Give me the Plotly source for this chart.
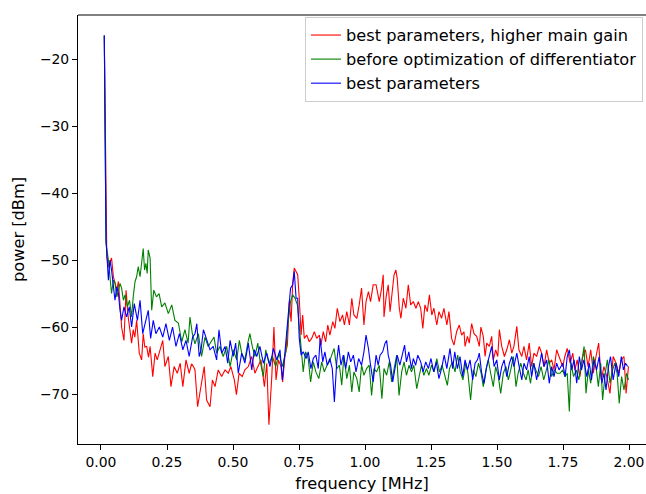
import plotly.graph_objects as go

# ---- data (frequency [MHz], power [dBm]) ----
red_data = [
    (0.0125, -16.5), (0.022, -49.5), (0.028, -51.0), (0.04, -49.7), (0.047, -52.5), (0.053, -53.4),
    (0.06, -54.5), (0.066, -53.2), (0.072, -57.0), (0.078, -60.0), (0.087, -62.0), (0.095, -54.5),
    (0.103, -58.5), (0.11, -60.5), (0.116, -62.4), (0.122, -60.4), (0.128, -61.5), (0.135, -59.0),
    (0.145, -63.9), (0.154, -64.9), (0.16, -61.0), (0.166, -63.0), (0.173, -62.9), (0.18, -64.5),
    (0.186, -62.9), (0.196, -67.4), (0.205, -63.9), (0.213, -64.9), (0.223, -63.4), (0.234, -62.0),
    (0.242, -65.9), (0.255, -64.4), (0.265, -68.9), (0.277, -65.9), (0.289, -66.9), (0.30, -65.4),
    (0.31, -68.9), (0.322, -64.9), (0.334, -66.9), (0.343, -65.5), (0.35, -65.9), (0.356, -66.4),
    (0.366, -71.9), (0.379, -68.4), (0.391, -65.9), (0.40, -70.9), (0.413, -71.9), (0.422, -67.9),
    (0.432, -68.9), (0.444, -66.4), (0.457, -67.4), (0.47, -66.4), (0.482, -66.9), (0.492, -65.9),
    (0.505, -67.9), (0.513, -70.1), (0.523, -66.9), (0.535, -67.4), (0.545, -66.4), (0.558, -65.9),
    (0.571, -64.4), (0.583, -66.9), (0.596, -65.9), (0.606, -64.9), (0.619, -68.9), (0.628, -65.4),
    (0.636, -74.6), (0.647, -67.4), (0.655, -60.0), (0.663, -67.9), (0.672, -64.9), (0.682, -65.9),
    (0.688, -68.2), (0.697, -64.2), (0.706, -62.7), (0.713, -56.2), (0.72, -59.2), (0.726, -53.7),
    (0.732, -51.2), (0.739, -51.7), (0.745, -52.2), (0.751, -55.7), (0.758, -61.2), (0.764, -58.2),
    (0.77, -61.7), (0.779, -61.2), (0.789, -62.2), (0.798, -61.7), (0.808, -60.7), (0.817, -61.7),
    (0.827, -61.2), (0.833, -62.7), (0.842, -60.7), (0.851, -62.2), (0.859, -59.7), (0.867, -61.2),
    (0.878, -59.2), (0.886, -60.2), (0.895, -57.2), (0.905, -59.2), (0.915, -58.2), (0.922, -59.7),
    (0.931, -57.7), (0.941, -59.7), (0.95, -55.7), (0.958, -58.2), (0.969, -58.7), (0.978, -56.7),
    (0.987, -54.2), (0.996, -59.7), (1.004, -56.2), (1.013, -54.7), (1.021, -56.2), (1.031, -53.7),
    (1.042, -53.7), (1.054, -56.2), (1.063, -54.2), (1.069, -52.2), (1.072, -58.5), (1.08, -55.5),
    (1.088, -53.7), (1.095, -57.7), (1.101, -55.2), (1.11, -52.2), (1.117, -51.5), (1.122, -52.7),
    (1.13, -57.2), (1.136, -58.7), (1.145, -55.7), (1.155, -57.2), (1.164, -53.7), (1.173, -56.7),
    (1.183, -56.2), (1.193, -57.2), (1.202, -56.2), (1.211, -57.2), (1.219, -60.2), (1.227, -56.7),
    (1.236, -57.7), (1.244, -55.2), (1.253, -58.2), (1.261, -57.2), (1.272, -59.7), (1.28, -57.7),
    (1.29, -58.7), (1.299, -57.2), (1.31, -59.7), (1.318, -57.7), (1.328, -61.7), (1.337, -62.7),
    (1.347, -60.7), (1.357, -59.7), (1.366, -61.2), (1.375, -60.7), (1.379, -62.9), (1.388, -61.4),
    (1.395, -62.4), (1.404, -59.5), (1.413, -61.0), (1.423, -61.4), (1.433, -62.9), (1.439, -60.0),
    (1.448, -61.4), (1.455, -64.4), (1.461, -62.4), (1.471, -62.9), (1.48, -61.4), (1.486, -64.9),
    (1.495, -63.4), (1.503, -64.4), (1.509, -60.4), (1.518, -62.9), (1.528, -64.4), (1.537, -63.4),
    (1.547, -61.9), (1.556, -63.9), (1.564, -62.9), (1.575, -59.9), (1.583, -63.4), (1.594, -64.4),
    (1.602, -62.9), (1.612, -64.9), (1.622, -62.4), (1.631, -65.9), (1.64, -63.9), (1.65, -64.4),
    (1.66, -62.9), (1.669, -63.9), (1.678, -65.9), (1.688, -63.4), (1.698, -65.4), (1.707, -64.9),
    (1.716, -66.4), (1.726, -63.4), (1.735, -64.4), (1.749, -65.9), (1.757, -64.4), (1.766, -63.2),
    (1.777, -65.4), (1.787, -63.9), (1.795, -66.4), (1.804, -64.9), (1.814, -67.4), (1.825, -64.4),
    (1.835, -63.4), (1.845, -65.9), (1.855, -63.4), (1.865, -66.9), (1.875, -64.4), (1.885, -62.4),
    (1.895, -67.9), (1.905, -65.9), (1.916, -67.4), (1.928, -69.9), (1.94, -64.4), (1.951, -65.4),
    (1.961, -66.9), (1.971, -64.9), (1.981, -64.4), (1.989, -69.9), (1.998, -65.9),
]

green_data = [
    (0.0125, -16.5), (0.019, -47.5), (0.028, -50.0), (0.04, -55.0), (0.047, -53.0), (0.053, -53.4),
    (0.06, -55.5), (0.066, -54.5), (0.072, -53.5), (0.078, -54.2), (0.085, -56.0), (0.091, -55.2),
    (0.10, -57.0), (0.108, -56.0), (0.116, -58.5), (0.122, -55.5), (0.129, -53.2), (0.135, -52.5),
    (0.141, -51.0), (0.148, -52.5), (0.154, -50.0), (0.16, -48.3), (0.165, -51.5), (0.17, -50.5),
    (0.175, -52.0), (0.179, -48.5), (0.186, -49.7), (0.192, -57.5), (0.20, -54.5), (0.21, -55.5),
    (0.22, -55.0), (0.23, -57.0), (0.242, -56.4), (0.255, -58.0), (0.268, -56.7), (0.28, -59.0),
    (0.293, -59.4), (0.306, -62.2), (0.318, -60.4), (0.33, -62.4), (0.337, -58.5), (0.346, -61.0),
    (0.356, -62.5), (0.369, -61.0), (0.381, -64.4), (0.394, -61.5), (0.406, -62.9), (0.419, -62.0),
    (0.428, -61.5), (0.438, -63.9), (0.45, -62.9), (0.463, -64.4), (0.476, -62.9), (0.489, -65.9),
    (0.501, -63.4), (0.514, -64.9), (0.524, -62.0), (0.533, -63.9), (0.545, -64.9), (0.556, -62.4),
    (0.564, -61.0), (0.573, -62.9), (0.583, -64.4), (0.594, -62.4), (0.602, -64.9), (0.615, -67.4),
    (0.624, -63.4), (0.636, -65.4), (0.649, -64.4), (0.662, -65.9), (0.674, -63.9), (0.687, -65.9),
    (0.70, -63.7), (0.709, -59.2), (0.718, -56.2), (0.726, -55.2), (0.735, -55.7), (0.744, -56.7),
    (0.751, -60.2), (0.758, -62.7), (0.766, -66.7), (0.775, -63.7), (0.785, -64.7), (0.794, -68.2),
    (0.804, -65.2), (0.814, -66.7), (0.825, -67.7), (0.836, -65.2), (0.846, -66.7), (0.856, -65.7),
    (0.865, -65.2), (0.874, -64.2), (0.883, -63.2), (0.893, -66.2), (0.903, -65.7), (0.912, -68.7),
    (0.92, -64.2), (0.931, -67.7), (0.941, -65.7), (0.95, -69.7), (0.958, -66.7), (0.969, -67.7),
    (0.978, -69.7), (0.987, -65.7), (0.996, -67.2), (1.006, -66.2), (1.016, -65.7), (1.025, -70.2),
    (1.034, -66.2), (1.044, -66.7), (1.054, -65.7), (1.064, -70.7), (1.072, -66.2), (1.082, -67.2),
    (1.092, -65.2), (1.101, -68.2), (1.11, -66.2), (1.12, -64.2), (1.129, -70.2), (1.139, -66.7),
    (1.148, -65.2), (1.157, -67.2), (1.167, -65.7), (1.176, -66.7), (1.185, -65.7), (1.196, -69.2),
    (1.206, -67.2), (1.214, -65.7), (1.223, -67.2), (1.233, -66.2), (1.242, -67.2), (1.252, -65.7),
    (1.262, -66.7), (1.272, -64.7), (1.282, -66.7), (1.292, -65.7), (1.302, -67.2), (1.312, -68.7),
    (1.32, -66.2), (1.331, -65.2), (1.341, -66.7), (1.351, -64.2), (1.361, -66.7), (1.371, -67.9),
    (1.382, -65.4), (1.39, -66.9), (1.40, -70.9), (1.41, -66.4), (1.42, -67.4), (1.43, -65.4),
    (1.44, -66.9), (1.448, -68.9), (1.458, -66.4), (1.467, -64.9), (1.476, -66.9), (1.486, -68.9),
    (1.495, -65.9), (1.505, -67.4), (1.514, -69.9), (1.524, -66.9), (1.534, -65.9), (1.543, -67.9),
    (1.552, -66.4), (1.562, -64.4), (1.572, -68.9), (1.58, -66.9), (1.59, -65.4), (1.60, -66.9),
    (1.61, -67.9), (1.618, -66.4), (1.627, -68.4), (1.637, -65.4), (1.647, -66.4), (1.657, -67.4),
    (1.667, -65.9), (1.677, -67.9), (1.687, -66.4), (1.697, -64.9), (1.707, -67.4), (1.717, -66.4),
    (1.727, -66.9), (1.739, -66.9), (1.749, -66.4), (1.757, -67.4), (1.766, -66.9), (1.774, -72.6),
    (1.78, -65.4), (1.79, -67.4), (1.80, -66.4), (1.81, -67.9), (1.82, -65.4), (1.83, -62.9),
    (1.837, -69.9), (1.846, -66.4), (1.855, -68.4), (1.865, -64.4), (1.875, -65.9), (1.884, -68.9),
    (1.893, -65.4), (1.90, -70.9), (1.91, -66.9), (1.918, -64.9), (1.928, -68.4), (1.938, -66.4),
    (1.946, -65.4), (1.955, -66.9), (1.963, -71.4), (1.972, -67.4), (1.981, -69.4), (1.991, -66.9),
    (1.998, -67.9),
]

blue_data = [
    (0.0125, -16.5), (0.019, -47.0), (0.028, -53.0), (0.034, -50.0), (0.04, -51.5), (0.047, -54.0),
    (0.053, -56.0), (0.06, -54.0), (0.066, -55.0), (0.072, -57.5), (0.078, -59.0), (0.087, -57.0),
    (0.097, -58.5), (0.107, -57.0), (0.116, -60.0), (0.126, -56.5), (0.138, -59.0), (0.148, -56.0),
    (0.158, -61.0), (0.167, -59.5), (0.179, -57.5), (0.188, -61.7), (0.198, -59.0), (0.208, -61.0),
    (0.221, -60.0), (0.234, -61.5), (0.246, -59.5), (0.259, -62.0), (0.271, -60.0), (0.284, -62.9),
    (0.297, -61.0), (0.31, -63.4), (0.322, -62.0), (0.334, -64.4), (0.347, -61.5), (0.356, -61.0),
    (0.363, -59.5), (0.372, -64.4), (0.379, -63.4), (0.388, -60.4), (0.40, -62.0), (0.413, -63.4),
    (0.425, -62.9), (0.438, -64.9), (0.447, -60.4), (0.457, -63.9), (0.47, -62.9), (0.48, -65.4),
    (0.489, -62.0), (0.501, -64.4), (0.51, -62.4), (0.52, -66.9), (0.533, -63.9), (0.545, -65.4),
    (0.558, -62.4), (0.571, -66.4), (0.581, -63.4), (0.59, -64.4), (0.602, -62.9), (0.615, -65.4),
    (0.628, -63.9), (0.64, -65.9), (0.653, -63.2), (0.666, -64.9), (0.678, -63.4), (0.687, -67.9),
    (0.697, -63.7), (0.709, -57.7), (0.718, -54.2), (0.726, -53.7), (0.732, -51.7), (0.739, -55.7),
    (0.745, -55.7), (0.751, -61.7), (0.758, -64.2), (0.766, -63.7), (0.777, -64.7), (0.785, -63.7),
    (0.795, -66.2), (0.804, -64.7), (0.814, -64.2), (0.823, -66.2), (0.83, -61.7), (0.84, -65.2),
    (0.848, -63.7), (0.857, -65.7), (0.867, -64.7), (0.876, -66.2), (0.884, -71.2), (0.893, -65.2),
    (0.90, -62.7), (0.909, -65.7), (0.918, -64.2), (0.927, -66.2), (0.937, -63.7), (0.946, -65.2),
    (0.956, -64.2), (0.966, -66.7), (0.976, -64.7), (0.987, -65.7), (0.996, -63.7), (1.004, -61.2),
    (1.013, -63.2), (1.021, -65.7), (1.031, -68.2), (1.042, -64.2), (1.05, -65.7), (1.057, -64.2),
    (1.067, -63.7), (1.076, -62.4), (1.082, -62.0), (1.088, -64.2), (1.097, -65.7), (1.105, -68.2),
    (1.114, -65.7), (1.122, -64.2), (1.132, -65.7), (1.141, -64.2), (1.15, -62.7), (1.157, -65.2),
    (1.166, -63.7), (1.176, -66.2), (1.183, -64.7), (1.192, -65.7), (1.20, -64.2), (1.211, -65.2),
    (1.22, -66.7), (1.23, -65.2), (1.24, -66.2), (1.25, -64.7), (1.26, -66.7), (1.27, -65.2),
    (1.28, -67.7), (1.29, -66.2), (1.30, -64.2), (1.31, -66.2), (1.322, -63.2), (1.332, -66.2),
    (1.34, -63.7), (1.35, -66.2), (1.36, -64.4), (1.37, -67.4), (1.379, -64.9), (1.388, -66.4),
    (1.398, -64.9), (1.408, -67.9), (1.417, -65.4), (1.426, -64.9), (1.433, -63.9), (1.442, -66.9),
    (1.451, -68.4), (1.461, -65.9), (1.471, -64.4), (1.48, -62.9), (1.489, -65.9), (1.499, -64.9),
    (1.509, -67.9), (1.518, -65.9), (1.527, -64.9), (1.537, -67.4), (1.547, -65.4), (1.556, -64.4),
    (1.564, -65.9), (1.575, -63.9), (1.584, -65.9), (1.594, -67.9), (1.602, -65.4), (1.612, -66.4),
    (1.622, -64.4), (1.631, -67.4), (1.64, -65.4), (1.65, -67.9), (1.66, -65.9), (1.669, -63.9),
    (1.678, -65.9), (1.688, -64.9), (1.698, -68.4), (1.707, -65.9), (1.716, -67.4), (1.726, -65.4),
    (1.735, -66.4), (1.749, -65.4), (1.758, -67.4), (1.766, -64.4), (1.774, -63.4), (1.783, -66.4),
    (1.792, -64.9), (1.802, -68.4), (1.812, -64.4), (1.82, -66.4), (1.829, -64.9), (1.84, -67.4),
    (1.85, -65.4), (1.858, -67.9), (1.867, -64.9), (1.877, -66.4), (1.887, -64.4), (1.897, -68.4),
    (1.905, -66.9), (1.913, -69.4), (1.922, -65.9), (1.93, -64.4), (1.94, -67.9), (1.951, -65.4),
    (1.961, -67.4), (1.971, -64.4), (1.979, -66.4), (1.987, -65.4), (1.995, -65.9),
]

series_names = ["best parameters, higher main gain",
                "before optimization of differentiator",
                "best parameters"]
series_colors = ["#ff0000", "#008000", "#0000ff"]

x_tick_vals = [0.0, 0.25, 0.5, 0.75, 1.0, 1.25, 1.5, 1.75, 2.0]
x_tick_text = ["0.00", "0.25", "0.50", "0.75", "1.00", "1.25", "1.50", "1.75", "2.00"]
y_tick_vals = [-70, -60, -50, -40, -30, -20]
y_tick_text = ["\u221270", "\u221260", "\u221250", "\u221240", "\u221230", "\u221220"]

FONT = "DejaVu Sans"
TICK_SIZE = 13.9
LABEL_SIZE = 16.2

fig = go.Figure()
for i, (data, name, color) in enumerate(zip([red_data, green_data, blue_data], series_names, series_colors)):
    f, p = zip(*data)
    fig.add_trace(go.Scatter(
        x=list(f), y=list(p), mode="lines", name=name,
        line=dict(color=color, width=1.1), legendgroup=f"g{i}",
    ))

axis_common = dict(
    showgrid=False, zeroline=False, showline=True, linecolor="black", linewidth=1,
    ticks="outside", ticklen=5, tickwidth=1, tickcolor="black",
    tickfont=dict(family=FONT, size=TICK_SIZE, color="black"),
)

fig.update_layout(
    width=646, height=494,
    margin=dict(l=78, r=0, t=15, b=50),
    paper_bgcolor="white", plot_bgcolor="white",
    font=dict(family=FONT, size=TICK_SIZE, color="black"),
    xaxis=dict(range=[-0.0871, 2.0644], tickvals=x_tick_vals, ticktext=x_tick_text,
               title=dict(text="frequency [MHz]", font=dict(family=FONT, size=LABEL_SIZE), standoff=8),
               **axis_common),
    yaxis=dict(range=[-77.46, -13.43], tickvals=y_tick_vals, ticktext=y_tick_text,
               title=dict(text="power [dBm]", font=dict(family=FONT, size=LABEL_SIZE), standoff=11),
               **axis_common),
    legend=dict(x=0.9947, y=0.9953, xanchor="right", yanchor="top",
                bgcolor="rgba(255,255,255,0.8)", bordercolor="#cccccc", borderwidth=1,
                font=dict(family=FONT, size=LABEL_SIZE, color="black"),
                tracegroupgap=0, traceorder="normal", itemwidth=30),
    showlegend=True,
    shapes=[dict(type="line", xref="paper", yref="paper", x0=0, x1=1, y0=1, y1=1,
                 line=dict(color="black", width=1))],
)

fig.write_html("out.html")
